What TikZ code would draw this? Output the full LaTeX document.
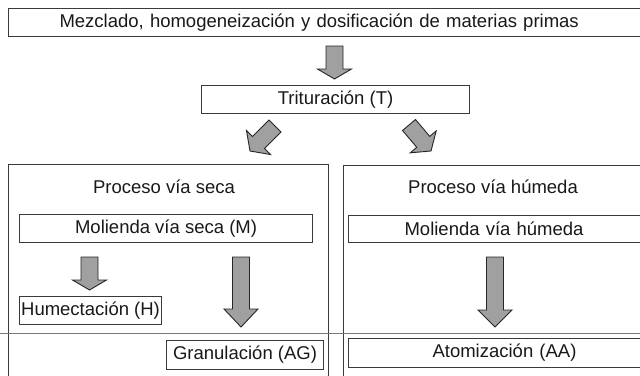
\documentclass[tikz,border=0pt]{standalone}
\usepackage{fontspec}
\setmainfont{Liberation Sans}
\usetikzlibrary{calc}
\definecolor{edgecol}{HTML}{3A3A3A}
\definecolor{arrowfill}{HTML}{A0A0A0}
\definecolor{sepcol}{HTML}{7A7A7A}
\begin{document}
\begin{tikzpicture}[x=1pt,y=-1pt,
  font=\fontsize{18.5}{22}\selectfont,
  box/.style={draw=edgecol, line width=1.1pt, inner ysep=0pt, inner xsep=0pt, text=black!90},
  panel/.style={draw=edgecol, line width=1.1pt, inner sep=0pt},
  title/.style={inner sep=0pt, text=black!90},
  blk/.style={draw=black!85, fill=arrowfill, line width=0.9pt, line join=miter,
    to path={
      ($(\tikztostart)!8.5pt!90:(\tikztotarget)$)
      -- ($($(\tikztotarget)!#1!(\tikztostart)$)!8.5pt!90:(\tikztotarget)$)
      -- ($($(\tikztotarget)!#1!(\tikztostart)$)!17pt!90:(\tikztotarget)$)
      -- (\tikztotarget)
      -- ($($(\tikztotarget)!#1!(\tikztostart)$)!17pt!-90:(\tikztotarget)$)
      -- ($($(\tikztotarget)!#1!(\tikztostart)$)!8.5pt!-90:(\tikztotarget)$)
      -- ($(\tikztostart)!8.5pt!-90:(\tikztotarget)$)
      -- cycle}},
  blk/.default=10pt]
\useasboundingbox (0,0) rectangle (640,375);
\clip (0,0) rectangle (640,375);
\fill[white] (0,0) rectangle (640,375);

% panels
\node[panel, anchor=north west, minimum width=320pt, minimum height=240pt] (pL) at (8,164) {};
\node[panel, anchor=north west, minimum width=320pt, minimum height=240pt] (pR) at (343,165) {};
\draw[sepcol, line width=0.9pt] (0,333) -- (640,333);

% boxes
\node[box, anchor=north west, minimum height=28pt, inner xsep=51pt, text width=660pt, align=left] (mix) at (8,8)
  {Mezclado, homogeneización y dosificación de materias primas};
\node[box, anchor=north west, minimum width=268pt, minimum height=28pt] (trit) at (201,85) {Trituración (T)};

\node[title] (tL) at (164,187) {Proceso vía seca};
\node[title] (tR) at (493,187) {Proceso vía húmeda};

\node[box, anchor=north west, minimum width=293pt, minimum height=28pt] (molS) at (19,214) {Molienda vía seca (M)};
\node[box, anchor=north west, minimum height=27pt, inner xsep=56pt, text width=300pt, align=left] (molH) at (348,215) {Molienda vía húmeda};
\node[box, anchor=north west, minimum width=142pt, minimum height=28pt] (hum) at (19,296) {Humectación (H)};
\node[box, anchor=north west, minimum width=157pt, minimum height=29pt] (gran) at (166,340) {Granulación (AG)};
\node[box, anchor=north west, minimum height=29pt, inner xsep=84pt, text width=300pt, align=left] (atom) at (348,338) {Atomización (AA)};

% arrow end points
\coordinate (a1s) at (334.5,46);  \coordinate (a1e) at (334.5,79);
\coordinate (a2s) at (275,126);   \coordinate (a2e) at (250,151);
\coordinate (a3s) at (409,125);   \coordinate (a3e) at (431,151);
\coordinate (a4s) at (89.5,257);  \coordinate (a4e) at (89.5,290);
\coordinate (a5s) at (241,257);   \coordinate (a5e) at (241,327);
\coordinate (a6s) at (495,257);   \coordinate (a6e) at (495,327);

\draw[blk] (a1s) to (a1e);
\draw[blk=12pt] (a2s) to (a2e);
\draw[blk=12pt] (a3s) to (a3e);
\draw[blk] (a4s) to (a4e);
\draw[blk=18pt] (a5s) to (a5e);
\draw[blk=17pt] (a6s) to (a6e);
\end{tikzpicture}
\end{document}
